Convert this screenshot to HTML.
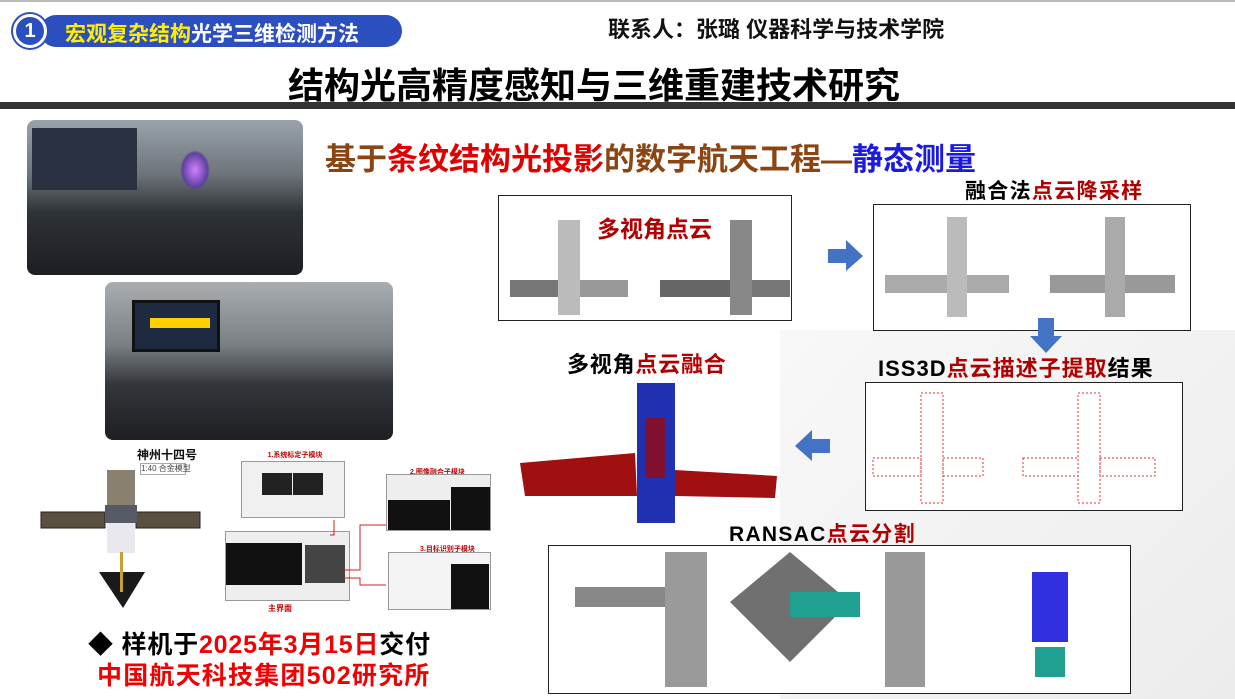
<!DOCTYPE html>
<html><head><meta charset="utf-8"><style>
*{margin:0;padding:0;box-sizing:border-box}
body{width:1235px;height:699px;position:relative;overflow:hidden;background:#fff;font-family:"Liberation Sans","Noto Sans CJK SC",sans-serif;font-weight:bold}
.a{position:absolute;white-space:nowrap}
.r{color:#c00000}.dr{color:#b00000}
.box{position:absolute;border:1px solid #222;background:#fff}
</style></head><body>
<div class="a" style="left:0;top:0;width:1235px;height:2px;background:#bbb"></div>
<div class="a" style="left:780px;top:330px;width:455px;height:369px;background:linear-gradient(135deg,#f8f8f8,#ececec)"></div>
<div class="a" style="left:40px;top:15px;width:362px;height:32px;background:#2c4fc0;border-radius:16px"></div>
<div class="a" style="left:13px;top:14px;width:34px;height:34px;border-radius:50%;background:#2c4fc0;border:3px solid #fff;box-shadow:0 0 0 2px #2c4fc0;color:#fff;font-size:20px;text-align:center;line-height:28px">1</div>
<div class="a" style="left:65px;top:18px;font-size:21px;color:#fff"><span style="color:#ffee00">宏观复杂结构</span>光学三维检测方法</div>
<div class="a" style="left:608px;top:12px;font-size:22px;color:#111">联系人：张璐 仪器科学与技术学院</div>
<div class="a" style="left:288px;top:57px;font-size:36px;color:#000">结构光高精度感知与三维重建技术研究</div>
<div class="a" style="left:0;top:102px;width:1235px;height:7px;background:#333"></div>

<!-- photos -->
<div class="a" style="left:27px;top:120px;width:276px;height:155px;border-radius:8px;background:linear-gradient(180deg,#9aa3ab 0%,#6d747a 35%,#2e3236 60%,#1c1f22 100%)"></div>
<div class="a" style="left:32px;top:128px;width:105px;height:62px;background:#2a3140"></div>
<div class="a" style="left:180px;top:150px;width:30px;height:40px;background:radial-gradient(#d080ff,#6040a0 60%,transparent 70%)"></div>
<div class="a" style="left:105px;top:282px;width:288px;height:158px;border-radius:8px;background:linear-gradient(180deg,#a9adb0 0%,#7a7f83 40%,#33363a 65%,#1d1f22 100%)"></div>
<div class="a" style="left:132px;top:300px;width:88px;height:52px;background:#1e2a40;border:3px solid #111"></div>
<div class="a" style="left:150px;top:318px;width:60px;height:10px;background:#ffd000"></div>

<!-- bottom-left satellite -->
<div class="a" style="left:137px;top:446px;font-size:12px;color:#111">神州十四号</div>
<div class="a" style="left:140px;top:463px;width:46px;height:12px;border:1px solid #aaa;font-size:8px;color:#444;line-height:10px;font-weight:normal">1:40 合金模型</div>
<svg class="a" style="left:35px;top:460px" width="170" height="160">
<rect x="6" y="52" width="64" height="16" fill="#5a5040" stroke="#222"/>
<rect x="101" y="52" width="64" height="16" fill="#5a5040" stroke="#222"/>
<rect x="72" y="10" width="28" height="35" fill="#8a8070"/>
<rect x="70" y="45" width="32" height="18" fill="#555a66"/>
<rect x="72" y="63" width="28" height="30" fill="#e8e8ee"/>
<polygon points="64,112 110,112 88,148" fill="#1a1a1a"/>
<rect x="85" y="92" width="3" height="40" fill="#c8a030"/>
</svg>

<!-- software screenshots -->
<div class="a" style="left:239px;top:450px;width:112px;height:16px;font-size:7px;color:#c00000;text-align:center">1.系统标定子模块</div>
<div class="a" style="left:241px;top:461px;width:104px;height:57px;background:#f0f0f0;border:1px solid #999"></div>
<div class="a" style="left:262px;top:473px;width:30px;height:22px;background:#222"></div>
<div class="a" style="left:293px;top:473px;width:30px;height:22px;background:#222"></div>
<div class="a" style="left:225px;top:531px;width:125px;height:70px;background:#eee;border:1px solid #999"></div>
<div class="a" style="left:226px;top:543px;width:76px;height:42px;background:#111"></div>
<div class="a" style="left:305px;top:545px;width:40px;height:38px;background:#444"></div>
<div class="a" style="left:268px;top:603px;font-size:8px;color:#c00000">主界面</div>
<div class="a" style="left:410px;top:467px;font-size:7px;color:#c00000">2.图像融合子模块</div>
<div class="a" style="left:386px;top:474px;width:105px;height:57px;background:#eee;border:1px solid #999"></div>
<div class="a" style="left:388px;top:500px;width:62px;height:30px;background:#111"></div>
<div class="a" style="left:451px;top:487px;width:39px;height:43px;background:#111"></div>
<div class="a" style="left:420px;top:544px;font-size:7px;color:#c00000">3.目标识别子模块</div>
<div class="a" style="left:388px;top:552px;width:103px;height:58px;background:#f4f4f4;border:1px solid #999"></div>
<div class="a" style="left:451px;top:564px;width:38px;height:45px;background:#111"></div>
<svg class="a" style="left:330px;top:490px" width="60" height="100"><polyline points="4,30 4,45 0,45" fill="none" stroke="#d02020"/><polyline points="14,80 30,80 30,35 56,35" fill="none" stroke="#d02020"/><polyline points="14,88 30,88 30,95 56,95" fill="none" stroke="#d02020"/></svg>

<div class="a" style="left:88px;top:625px;font-size:25px;letter-spacing:0.8px;color:#000">◆ 样机于<span style="color:#f00000">2025年3月15日</span>交付</div>
<div class="a" style="left:97px;top:656px;font-size:25px;letter-spacing:1.2px;color:#f00000">中国航天科技集团502研究所</div>

<!-- subtitle -->
<div class="a" style="left:325px;top:134px;font-size:31px;color:#8b4513">基于<span style="color:#e00000">条纹结构光投影</span>的数字航天工程—<span style="color:#1a1ae0">静态测量</span></div>

<!-- box1 -->
<div class="box" style="left:498px;top:195px;width:294px;height:126px"></div>
<div class="a" style="left:597px;top:210px;font-size:23px;color:#b00000">多视角点云</div>
<svg class="a" style="left:500px;top:215px" width="290" height="105">
<rect x="10" y="65" width="48" height="17" fill="#777"/><rect x="58" y="5" width="22" height="95" fill="#bbb"/><rect x="80" y="65" width="48" height="17" fill="#999"/>
<rect x="160" y="65" width="70" height="17" fill="#666"/><rect x="230" y="5" width="22" height="95" fill="#888"/><rect x="252" y="65" width="45" height="17" fill="#777"/>
</svg>
<svg class="a" style="left:828px;top:240px" width="36" height="32"><polygon points="0,9 18,9 18,0 35,16 18,31 18,23 0,23" fill="#4472c4"/></svg>

<!-- box2 -->
<div class="a" style="left:965px;top:175px;font-size:21px;letter-spacing:1.3px;color:#000">融合法<span class="dr">点云降采样</span></div>
<div class="box" style="left:873px;top:204px;width:318px;height:127px"></div>
<svg class="a" style="left:875px;top:215px" width="314" height="110">
<rect x="10" y="60" width="62" height="18" fill="#aaa"/><rect x="72" y="2" width="20" height="100" fill="#bbb"/><rect x="92" y="60" width="42" height="18" fill="#aaa"/>
<rect x="175" y="60" width="55" height="18" fill="#999"/><rect x="230" y="2" width="20" height="100" fill="#aaa"/><rect x="250" y="60" width="50" height="18" fill="#999"/>
</svg>
<svg class="a" style="left:1030px;top:318px" width="32" height="36"><polygon points="8,0 24,0 24,18 32,18 16,35 0,18 8,18" fill="#4472c4"/></svg>

<div class="a" style="left:878px;top:351px;font-size:22px;letter-spacing:1px;color:#000">ISS3D<span class="dr">点云描述子提取</span>结果</div>
<div class="box" style="left:865px;top:382px;width:318px;height:129px"></div>
<svg class="a" style="left:868px;top:388px" width="312" height="120" fill="none" stroke="#e03030" stroke-dasharray="2 2">
<rect x="5" y="70" width="48" height="18"/><rect x="53" y="5" width="22" height="110"/><rect x="75" y="70" width="40" height="18"/>
<rect x="155" y="70" width="55" height="18"/><rect x="210" y="5" width="22" height="110"/><rect x="232" y="70" width="55" height="18"/>
</svg>
<svg class="a" style="left:795px;top:430px" width="36" height="32"><polygon points="35,9 17,9 17,0 0,16 17,31 17,23 35,23" fill="#4472c4"/></svg>

<div class="a" style="left:567px;top:347px;font-size:22px;letter-spacing:0.8px;color:#000">多视角<span class="dr">点云融合</span></div>
<svg class="a" style="left:515px;top:378px" width="265" height="155">
<polygon points="5,85 120,75 122,118 10,118" fill="#a01010"/>
<polygon points="160,92 262,98 260,120 160,118" fill="#a01010"/>
<rect x="122" y="5" width="38" height="140" fill="#2030b0"/>
<rect x="130" y="40" width="20" height="60" fill="#801030"/>
</svg>

<div class="a" style="left:729px;top:518px;font-size:21px;letter-spacing:1.3px;color:#000">RANSAC<span class="dr">点云分割</span></div>
<div class="box" style="left:548px;top:545px;width:583px;height:149px"></div>
<svg class="a" style="left:550px;top:547px" width="580" height="145">
<rect x="25" y="40" width="90" height="20" fill="#888"/><rect x="115" y="5" width="42" height="135" fill="#9a9a9a"/>
<polygon points="240,5 300,55 240,115 180,55" fill="#707070"/><rect x="240" y="45" width="70" height="25" fill="#20a090"/>
<rect x="335" y="5" width="40" height="135" fill="#999"/>
<rect x="482" y="25" width="36" height="70" fill="#3030e0"/><rect x="485" y="100" width="30" height="30" fill="#20a090"/>
</svg>
</body></html>
